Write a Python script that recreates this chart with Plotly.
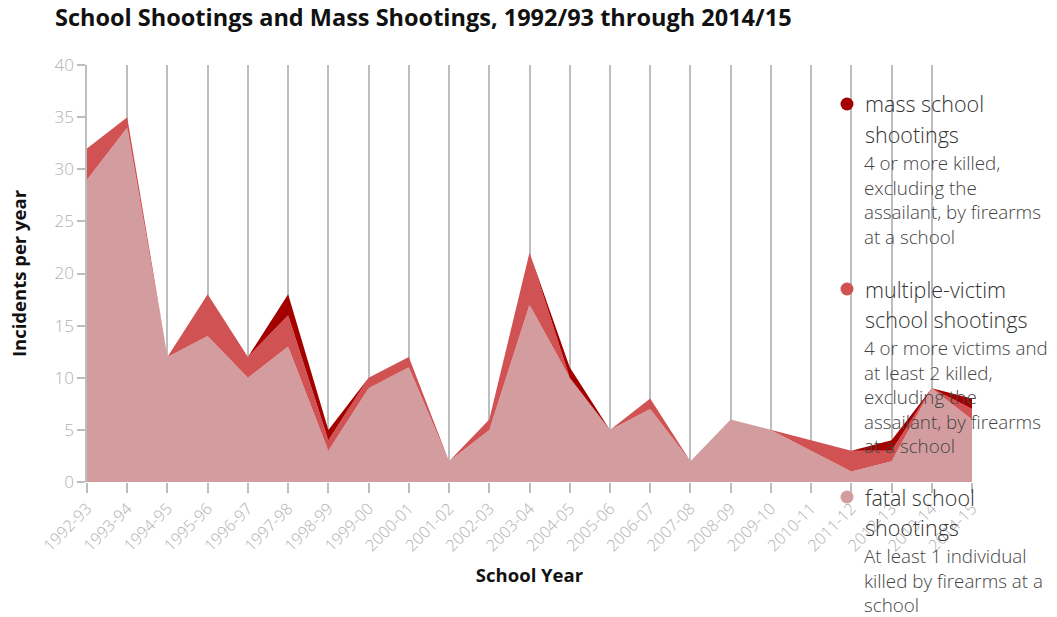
import plotly.graph_objects as go

years = ["1992-93", "1993-94", "1994-95", "1995-96", "1996-97", "1997-98", "1998-99",
         "1999-00", "2000-01", "2001-02", "2002-03", "2003-04", "2004-05", "2005-06",
         "2006-07", "2007-08", "2008-09", "2009-10", "2010-11", "2011-12", "2012-13",
         "2013-14", "2014-15"]
fatal = [29, 34, 12, 14, 10, 13, 3, 9, 11, 2, 5, 17, 10, 5, 7, 2, 6, 5, 3, 1, 2, 9, 6]
multiple = [3, 1, 0, 4, 2, 3, 1, 1, 1, 0, 1, 5, 0, 0, 1, 0, 0, 0, 1, 2, 1, 0, 1]
mass = [0, 0, 0, 0, 0, 2, 1, 0, 0, 0, 0, 0, 1, 0, 0, 0, 0, 0, 0, 0, 1, 0, 1]

C_FATAL = "rgb(211,157,159)"
C_MULTI = "rgb(208,82,83)"
C_MASS = "rgb(165,0,0)"

legend_items = [
    (C_MASS, ["mass school", "shootings"],
     ["4 or more killed,", "excluding the", "assailant, by firearms", "at a school"]),
    (C_MULTI, ["multiple-victim", "school shootings"],
     ["4 or more victims and", "at least 2 killed,", "excluding the",
      "assailant, by firearms", "at a school"]),
    (C_FATAL, ["fatal school", "shootings"],
     ["At least 1 individual", "killed by firearms at a", "school"]),
]

W, H = 1057, 617
L, R, T, B = 87, 972, 65, 482
FONT = "Open Sans"

fig = go.Figure()
for name, vals, col in [("fatal school shootings", fatal, C_FATAL),
                        ("multiple-victim school shootings", multiple, C_MULTI),
                        ("mass school shootings", mass, C_MASS)]:
    fig.add_trace(go.Scatter(x=years, y=vals, name=name, stackgroup="one",
                             mode="lines", line=dict(width=0, color=col),
                             fillcolor=col, showlegend=False))

def px_x(p):
    return (p - L) / (R - L)

def px_y(p):
    return (B - p) / (B - T)

annotations = []
shapes = []
starts = [104, 289, 497]
for (col, title_lines, sub_lines), y0 in zip(legend_items, starts):
    r = 6.5
    shapes.append(dict(type="circle", xref="paper", yref="paper",
                       x0=px_x(847 - r), x1=px_x(847 + r),
                       y0=px_y(y0 + r), y1=px_y(y0 - r),
                       fillcolor=col, line=dict(width=0), layer="above"))
    y = y0
    for ln in title_lines:
        annotations.append(dict(text=ln, xref="paper", yref="paper", x=px_x(863), y=px_y(y),
                                xanchor="left", yanchor="middle", showarrow=False,
                                font=dict(family=FONT, size=21.5, color="#333", weight=300)))
        y += 30
    y -= 1
    for ln in sub_lines:
        annotations.append(dict(text=ln, xref="paper", yref="paper", x=px_x(863), y=px_y(y),
                                xanchor="left", yanchor="middle", showarrow=False,
                                borderpad=0,
                                font=dict(family=FONT, size=18.8, color="#444", weight=300)))
        y += 24.5

fig.update_layout(
    width=W, height=H,
    margin=dict(l=L, r=W - R, t=T, b=H - B, pad=0),
    plot_bgcolor="white", paper_bgcolor="white",
    title=dict(text="<b>School Shootings and Mass Shootings, 1992/93 through 2014/15</b>",
               x=55 / W, xref="container", xanchor="left",
               y=1 - 18 / H, yref="container", yanchor="middle",
               font=dict(family=FONT, size=23.5, color="#111")),
    xaxis=dict(type="category", range=[0, len(years) - 1],
               showgrid=True, gridcolor="#bdbdbd", gridwidth=1.5,
               ticks="outside", ticklen=10, tickcolor="#bdbdbd", tickwidth=1.5,
               tickangle=-45, tickfont=dict(family=FONT, size=16, color="#b0b0b0", weight=300),
               showline=False, zeroline=False,
               title=dict(text="<b>School Year</b>", standoff=14,
                          font=dict(family=FONT, size=18.5, color="#111"))),
    yaxis=dict(range=[0, 40], dtick=5, showgrid=False, zeroline=False,
               showline=True, linecolor="#bdbdbd", linewidth=1.5,
               ticks="outside", ticklen=8, tickcolor="#bdbdbd", tickwidth=1.5,
               tickfont=dict(family=FONT, size=17, color="#b0b0b0", weight=300),
               title=dict(text="<b>Incidents per year</b>", standoff=23,
                          font=dict(family=FONT, size=18.5, color="#111"))),
    annotations=annotations, shapes=shapes,
)

fig.write_html("out.html", config={"displayModeBar": False},
               post_script="document.body.style.margin='0';")
